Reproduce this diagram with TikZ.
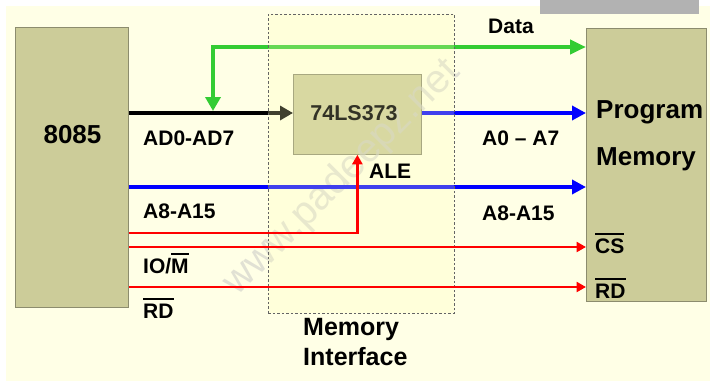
\documentclass[tikz,border=0pt]{standalone}
\usepackage{fontspec}
\setmainfont{Liberation Sans}
\usetikzlibrary{arrows.meta}

\definecolor{paper}{RGB}{255,255,230}
\definecolor{chip}{RGB}{204,204,153}
\definecolor{chipline}{RGB}{140,140,110}
\definecolor{zonefill}{RGB}{255,255,185}
\definecolor{zoneline}{RGB}{100,100,100}
\definecolor{busgreen}{RGB}{51,204,51}
\definecolor{busblue}{RGB}{0,0,255}
\definecolor{busred}{RGB}{255,0,0}
\definecolor{mark}{RGB}{205,205,200}
\definecolor{tab}{RGB}{178,178,178}

% text with a bar over it (active-low signal names)
\newcommand\barred[1]{\vbox{\hrule height 1.8pt\kern 3.6pt\hbox{#1}}}

\begin{document}
\begin{tikzpicture}[x=1pt,y=-1pt,
  chipbox/.style={draw=chipline, line width=0.8pt, fill=chip, inner sep=0pt, anchor=north west},
  zonebox/.style={draw=zoneline, line width=0.8pt, dash pattern=on 2.5pt off 2pt,
                  fill=zonefill, fill opacity=0.25, inner sep=0pt, anchor=north west},
  lbl/.style={font=\bfseries\fontsize{21}{21}\selectfont, inner sep=0pt, anchor=base west},
  biglbl/.style={font=\bfseries\fontsize{26}{26}\selectfont, inner sep=0pt, anchor=base west},
  bus/.style={line width=4.2pt},
  sig/.style={line width=2.6pt, draw=busred, -{Triangle[length=9.5pt,width=10pt]}},
  bustip/.style={-{Triangle[length=14pt,width=14pt]}},
]
\useasboundingbox (0,0) rectangle (710,381);
\fill[paper] (6,6) rectangle (710,381);

% blocks
\node[chipbox, minimum width=113pt, minimum height=280pt] (cpu) at (15,27) {};
\node[chipbox, minimum width=128pt, minimum height=80pt] (latch) at (293,74) {};
\node[chipbox, minimum width=120pt, minimum height=273pt] (mem) at (586,28) {};

% faint site mark across the middle, over the blocks
\node[rotate=45, text=mark, text opacity=0.6, inner sep=0pt, font=\fontsize{40}{40}\selectfont] (wm) at (342,178) {www.padeepz.net};

% signal rows
\coordinate (yData) at (0,47);
\coordinate (yAD) at (0,113);
\coordinate (yHigh) at (0,187);
\coordinate (yALE) at (0,233);
\coordinate (yIOM) at (0,247);
\coordinate (yRD) at (0,287);
\coordinate (tap) at (213,111);

% multiplexed bus into the latch, data branch to memory
\draw[bus, black, -{Triangle[length=13pt,width=14pt]}] (cpu.east |- yAD) -- (latch.west |- yAD);
\draw[bus, busgreen, {Triangle[length=14pt,width=15pt]}-{Triangle[length=16pt,width=14pt]}]
  (tap) |- (mem.west |- yData);
% address buses
\draw[bus, busblue, bustip] (latch.east |- yAD) -- (mem.west |- yAD);
\draw[bus, busblue, bustip] (cpu.east |- yHigh) -- (mem.west |- yHigh);

% dashed interface region
\node[zonebox, minimum width=186pt, minimum height=299pt] (iface) at (268,14) {};

% control lines
\draw[sig] (cpu.east |- yALE) -| (latch.south);
\draw[sig] (cpu.east |- yIOM) -- (mem.west |- yIOM);
\draw[sig] (cpu.east |- yRD) -- (mem.west |- yRD);

% labels
\node[biglbl, anchor=base] (tcpu) at (72.5,143) {8085};
\node[lbl, font=\bfseries\fontsize{21.5}{21.5}\selectfont, anchor=base, text={rgb,255:red,50;green,50;blue,38}] (tlatch) at (354,120) {74LS373};
\node[lbl] (tad) at (143,145) {AD0-AD7};
\node[lbl] (tahi) at (143,218) {A8-A15};
\node[lbl] (tiom) at (143,273) {IO/\barred{M}};
\node[lbl] (trd) at (143,318) {\barred{RD}};
\node[lbl] (tdata) at (488,33) {Data};
\node[lbl] (talo) at (482,145) {A0 – A7};
\node[lbl] (tale) at (369,178) {ALE};
\node[lbl] (tahi2) at (482,220) {A8-A15};
\node[biglbl] (tprog) at (596,118) {Program};
\node[biglbl] (tmem) at (596,165) {Memory};
\node[lbl] (tcs) at (595,253) {\barred{CS}};
\node[lbl] (trd2) at (595,298) {\barred{RD}};
\node[lbl, font=\bfseries\fontsize{25}{25}\selectfont] (tif1) at (303,335) {Memory};
\node[lbl, font=\bfseries\fontsize{25}{25}\selectfont] (tif2) at (303,365) {Interface};

% grey tab at the top edge
\fill[tab] (540,0) rectangle (699,14);
\end{tikzpicture}
\end{document}
